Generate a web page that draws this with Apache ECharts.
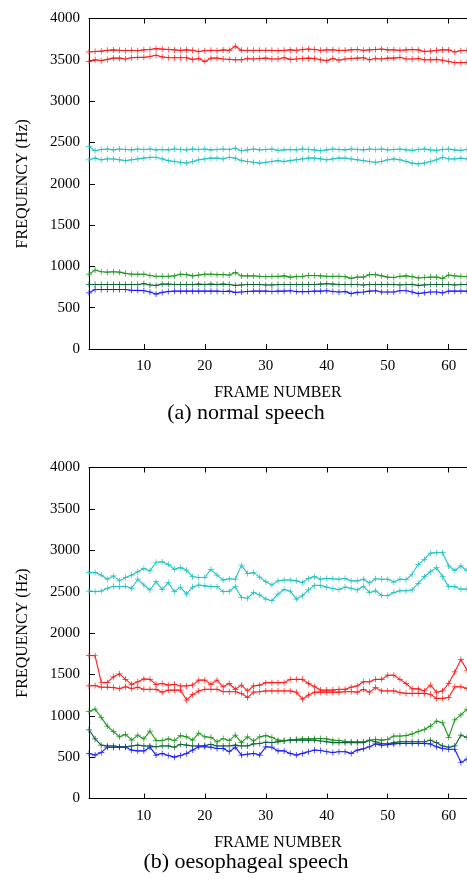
<!DOCTYPE html>
<html>
<head>
<meta charset="utf-8">
<script src="https://cdn.jsdelivr.net/npm/echarts@6/dist/echarts.min.js"></script>
<style>
html,body{margin:0;padding:0;background:#fff;}
#c{width:467px;height:882px;}
</style>
</head>
<body>
<div id="c"></div>
<script>
// ---- data ----
const frameCount = 63;
const xTicks = [10, 20, 30, 40, 50, 60];
const yTicks = [0, 500, 1000, 1500, 2000, 2500, 3000, 3500, 4000];
const captions = ['(a) normal speech', '(b) oesophageal speech'];
const xTitle = 'FRAME NUMBER';
const yTitle = 'FREQUENCY (Hz)';

// (a) normal speech
const topRed1 = [3595,3600,3605,3615,3620,3615,3610,3615,3610,3620,3625,3635,3630,3625,3620,3615,3620,3615,3600,3610,3615,3610,3620,3615,3665,3615,3615,3615,3615,3615,3615,3610,3615,3620,3615,3625,3630,3625,3615,3620,3620,3615,3615,3620,3625,3615,3620,3625,3630,3620,3620,3615,3620,3625,3620,3600,3605,3615,3620,3620,3595,3610,3615];
const topRed2 = [3480,3500,3490,3505,3520,3520,3510,3525,3530,3530,3540,3555,3535,3525,3525,3525,3525,3505,3515,3480,3520,3520,3510,3505,3500,3500,3515,3510,3515,3520,3510,3510,3525,3505,3510,3515,3520,3515,3500,3490,3515,3495,3510,3515,3520,3525,3500,3515,3510,3520,3520,3530,3510,3510,3515,3500,3500,3505,3495,3480,3465,3465,3470];
const topCyan1 = [2450,2400,2415,2420,2410,2420,2415,2410,2420,2415,2420,2410,2415,2410,2420,2415,2410,2420,2415,2420,2410,2415,2420,2415,2430,2400,2410,2420,2410,2415,2420,2405,2410,2415,2410,2420,2415,2410,2400,2410,2420,2415,2410,2420,2415,2410,2420,2415,2420,2410,2415,2420,2410,2405,2415,2420,2410,2405,2415,2420,2410,2405,2415];
const topCyan2 = [2290,2310,2290,2300,2300,2290,2280,2290,2300,2310,2320,2320,2300,2280,2270,2260,2250,2270,2290,2300,2310,2310,2300,2320,2310,2280,2270,2260,2250,2260,2270,2280,2270,2280,2290,2300,2310,2310,2300,2290,2300,2310,2310,2300,2290,2280,2270,2260,2270,2290,2300,2290,2270,2250,2240,2250,2270,2290,2320,2300,2300,2310,2300];
const topGreen1 = [905,955,935,930,935,930,915,905,905,905,890,880,880,880,885,905,900,885,895,905,905,900,900,895,925,885,885,885,880,875,880,880,885,870,875,880,890,890,885,880,880,880,875,855,870,870,900,900,885,870,865,880,885,875,860,865,870,870,855,895,885,880,875];
const topGreen2 = [780,780,780,780,780,780,780,780,780,790,775,770,785,785,780,780,780,780,785,780,785,780,785,780,770,775,780,780,780,775,775,780,780,780,780,780,780,780,785,790,785,780,780,780,780,775,780,780,780,780,780,775,780,780,770,775,780,780,780,780,775,780,780];
const topBlue = [680,720,720,720,720,720,720,710,710,705,690,665,685,695,700,700,700,700,700,700,700,700,695,700,685,690,695,700,700,700,695,700,700,705,695,695,695,700,700,705,695,690,695,670,685,690,700,705,690,690,690,705,705,690,670,680,690,690,680,700,700,700,700];

// (b) oesophageal speech
const botCyan1 = [2730,2730,2700,2650,2690,2630,2670,2700,2740,2780,2750,2855,2860,2830,2770,2790,2760,2680,2670,2670,2770,2700,2640,2655,2650,2820,2720,2730,2675,2620,2580,2630,2640,2640,2630,2610,2660,2680,2650,2660,2655,2650,2660,2630,2630,2650,2605,2655,2650,2650,2615,2650,2645,2710,2830,2890,2965,2970,2970,2810,2755,2810,2755];
const botCyan2 = [2507,2500,2507,2540,2565,2560,2565,2540,2650,2580,2520,2620,2525,2610,2500,2555,2470,2555,2580,2570,2560,2560,2500,2505,2560,2430,2420,2490,2460,2410,2390,2470,2525,2505,2410,2450,2520,2575,2575,2555,2535,2525,2555,2540,2520,2565,2490,2510,2455,2450,2490,2510,2510,2520,2600,2680,2740,2790,2680,2560,2560,2530,2530];
const botRed1 = [1730,1725,1405,1400,1470,1505,1440,1380,1410,1445,1440,1380,1390,1370,1380,1360,1360,1370,1430,1430,1380,1430,1350,1390,1320,1370,1300,1360,1370,1400,1400,1400,1400,1440,1440,1440,1390,1350,1310,1310,1310,1320,1320,1345,1360,1410,1410,1440,1440,1490,1490,1440,1390,1325,1325,1300,1370,1285,1300,1390,1530,1680,1550];
const botRed2 = [1360,1365,1345,1345,1340,1330,1350,1330,1345,1320,1320,1320,1285,1310,1310,1310,1190,1255,1300,1320,1320,1320,1290,1290,1290,1270,1220,1285,1290,1300,1300,1300,1300,1300,1285,1200,1250,1285,1285,1285,1285,1285,1290,1290,1285,1320,1285,1340,1300,1300,1300,1280,1270,1270,1270,1270,1260,1210,1210,1220,1350,1350,1330];
const botGreen1 = [1050,1080,980,875,810,745,775,705,765,720,815,700,700,720,700,760,745,705,790,745,740,685,725,700,765,675,745,695,745,760,740,705,700,705,715,720,720,725,725,720,705,700,690,685,685,685,700,715,705,715,755,755,760,780,810,835,875,935,915,740,950,1010,1080];
const botGreen2 = [830,720,645,635,635,625,625,635,645,635,635,625,635,635,620,655,645,635,635,640,655,635,635,635,645,635,635,660,665,680,675,685,695,705,705,705,705,705,695,685,675,675,675,675,675,675,705,685,665,660,675,685,685,685,685,685,705,675,635,620,635,765,740];
const botBlue = [545,525,555,620,620,620,620,585,575,575,620,525,545,520,500,520,545,585,625,625,620,605,605,565,620,525,535,545,525,625,620,575,575,545,525,545,565,585,580,565,555,565,565,545,585,600,625,660,645,650,660,665,665,665,665,665,660,625,605,595,595,435,475];

// ---- styles ----
const RED = '#ff1a1a', CYAN = '#22c2c2', GREEN = '#1f961f', DGREEN = '#0d6434', BLUE = '#1a1aff';
const FONT = 'Liberation Serif';
const PLUS = 'path://M4.4,0h1.2v10h-1.2z M0,4.4h10v1.2h-10z';

const panels = [
  {top: 18.5, height: 330.5, series: [[topRed1,RED],[topRed2,RED],[topCyan1,CYAN],[topCyan2,CYAN],[topGreen1,GREEN],[topGreen2,DGREEN],[topBlue,BLUE]]},
  {top: 467.5, height: 331, series: [[botRed1,RED],[botRed2,RED],[botCyan1,CYAN],[botCyan2,CYAN],[botGreen1,GREEN],[botGreen2,DGREEN],[botBlue,BLUE]]}
];

const grid = [], xAxis = [], yAxis = [], series = [], graphic = [];
panels.forEach((p, gi) => {
  grid.push({left: 89, right: 0, top: p.top, height: p.height, containLabel: false});
  const lineStyle = {color: '#000', width: 1};
  xAxis.push({
    type: 'value', gridIndex: gi, min: 1, max: frameCount, position: 'bottom',
    axisLine: {show: true, onZero: false, lineStyle},
    axisTick: {show: true, inside: true, length: 5, customValues: xTicks, lineStyle},
    axisLabel: {show: true, customValues: xTicks, margin: 10, color: '#000', fontFamily: FONT, fontSize: 15},
    splitLine: {show: false},
    name: xTitle, nameLocation: 'middle', nameGap: 36,
    nameTextStyle: {color: '#000', fontFamily: FONT, fontSize: 16}
  });
  xAxis.push({
    type: 'value', gridIndex: gi, min: 1, max: frameCount, position: 'top',
    axisLine: {show: true, onZero: false, lineStyle},
    axisTick: {show: true, inside: true, length: 5, customValues: xTicks, lineStyle},
    axisLabel: {show: false},
    splitLine: {show: false}
  });
  yAxis.push({
    type: 'value', gridIndex: gi, min: yTicks[0], max: yTicks[yTicks.length-1], interval: 500,
    axisLine: {show: true, onZero: false, lineStyle},
    axisTick: {show: true, inside: true, length: 6, lineStyle},
    axisLabel: {margin: 9, color: '#000', fontFamily: FONT, fontSize: 15, formatter: v => String(v)},
    splitLine: {show: false},
    name: yTitle, nameLocation: 'middle', nameGap: 58, nameRotate: 90,
    nameTextStyle: {color: '#000', fontFamily: FONT, fontSize: 16}
  });
  p.series.forEach(([vals, col]) => {
    series.push({
      type: 'line', xAxisIndex: gi*2, yAxisIndex: gi,
      data: vals.map((v, i) => [i + 1, v]),
      symbol: PLUS, symbolSize: 6, showSymbol: true,
      lineStyle: {color: col, width: 1.1},
      itemStyle: {color: col},
      animation: false, silent: true
    });
  });
  graphic.push({
    type: 'text', x: 246, y: p.top + p.height + 64,
    style: {text: captions[gi], fill: '#000', font: '22px "Liberation Serif"', textAlign: 'center', textVerticalAlign: 'middle'}
  });
});

const chart = echarts.init(document.getElementById('c'), null, {renderer: 'canvas'});
chart.setOption({animation: false, grid, xAxis, yAxis, series, graphic});
</script>
</body>
</html>
